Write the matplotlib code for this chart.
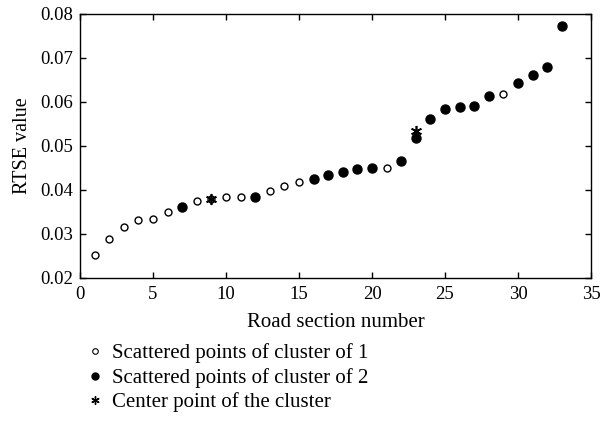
import matplotlib
matplotlib.use("Agg")
import matplotlib.pyplot as plt
from matplotlib.lines import Line2D

plt.rcParams['font.family'] = ['Liberation Serif', 'DejaVu Serif']

section = list(range(1, 34))
rtse = [0.0252, 0.0288, 0.0317, 0.0331, 0.0334, 0.0350, 0.0362, 0.0376, 0.0379, 0.0384,
        0.0384, 0.0385, 0.0397, 0.0408, 0.0418, 0.0425, 0.0435, 0.0440, 0.0447, 0.0449,
        0.0451, 0.0466, 0.0518, 0.0561, 0.0583, 0.0589, 0.0590, 0.0613, 0.0618, 0.0643,
        0.0661, 0.0680, 0.0772]
cluster = [1, 1, 1, 1, 1, 1, 2, 1, 1, 1,
           1, 2, 1, 1, 1, 2, 2, 2, 2, 2,
           1, 2, 2, 2, 2, 2, 2, 2, 1, 2,
           2, 2, 2]
center_x = [9, 23]
center_y = [0.0380, 0.0534]

fig = plt.figure(figsize=(6.0, 4.43), dpi=100)
ax = fig.add_axes([80/600, 1-278/443, 511/600, 264/443])

x1 = [x for x, c in zip(section, cluster) if c == 1]
y1 = [y for y, c in zip(rtse, cluster) if c == 1]
x2 = [x for x, c in zip(section, cluster) if c == 2]
y2 = [y for y, c in zip(rtse, cluster) if c == 2]

ax.plot(x1, y1, 'o', ms=5, mfc='white', mec='black', mew=1.0, ls='none')
ax.plot(x2, y2, 'o', ms=6.5, mfc='black', mec='black', ls='none')
ax.plot(center_x, center_y, marker=(6, 2, 0), ms=8, color='black', mew=1.2, ls='none')

ax.set_xlim(0, 35)
ax.set_ylim(0.02, 0.08)
ax.set_xticks(range(0, 36, 5))
ax.set_yticks([0.02, 0.03, 0.04, 0.05, 0.06, 0.07, 0.08])
ax.set_yticklabels(['0.02', '0.03', '0.04', '0.05', '0.06', '0.07', '0.08'])
ax.tick_params(direction='in', top=True, right=True, labelsize=13.5, length=4, width=1.0)
ax.tick_params(axis='x', pad=6)
ax.tick_params(axis='y', pad=5)
for s in ax.spines.values():
    s.set_linewidth(1.0)
ax.set_xlabel('Road section number', fontsize=15, labelpad=7)
ax.set_ylabel('RTSE value', fontsize=14.5, labelpad=6)

handles = [
    Line2D([], [], marker='o', ms=4, mfc='white', mec='black', mew=0.8, ls='none'),
    Line2D([], [], marker='o', ms=5, mfc='black', mec='black', ls='none'),
    Line2D([], [], marker=(6, 2, 0), ms=6, color='black', mew=1.0, ls='none'),
]
labels = ['Scattered points of cluster of 1',
          'Scattered points of cluster of 2',
          'Center point of the cluster']
fig.legend(handles, labels, loc='upper left', bbox_to_anchor=(76/600, 1-333/443),
           frameon=False, fontsize=15, handlelength=0.8, handletextpad=0.45,
           labelspacing=0.22, borderpad=0)

fig.savefig('out.png', dpi=100)
